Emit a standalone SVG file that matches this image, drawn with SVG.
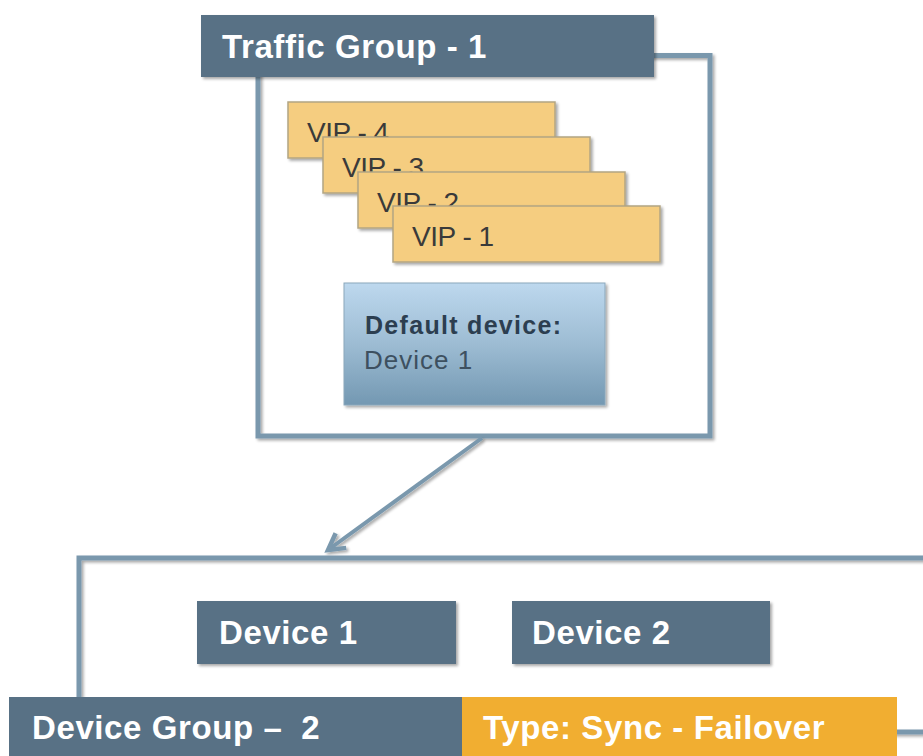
<svg xmlns="http://www.w3.org/2000/svg" width="923" height="756" viewBox="0 0 923 756">
  <defs>
    <filter id="sh" x="-10%" y="-10%" width="130%" height="130%">
      <feGaussianBlur in="SourceAlpha" stdDeviation="1.5"/>
      <feOffset dx="1.5" dy="2" result="b"/>
      <feComponentTransfer><feFuncA type="linear" slope="0.35"/></feComponentTransfer>
      <feMerge><feMergeNode/><feMergeNode in="SourceGraphic"/></feMerge>
    </filter>
    <linearGradient id="blueGrad" x1="0" y1="0" x2="0" y2="1">
      <stop offset="0" stop-color="#bdd8ee"/>
      <stop offset="0.5" stop-color="#9dbcd3"/>
      <stop offset="1" stop-color="#7398b2"/>
    </linearGradient>
    <marker id="arrow" viewBox="-4 -4 28 28" refX="18" refY="10" markerWidth="28" markerHeight="28" markerUnits="userSpaceOnUse" orient="auto" overflow="visible">
      <path d="M2,1 L18,10 L2,19" fill="none" stroke="#7a98ad" stroke-width="4.5" stroke-linejoin="miter"/>
    </marker>
    <style>
      .frame { fill: none; stroke: #7a98ad; stroke-width: 5; }
      .hdr { fill: #587185; }
      .vip { fill: #f5cd80; stroke: #b3a582; stroke-width: 1.5; }
      .vipt { font-family: "Liberation Sans", Arial, sans-serif; font-size: 28px; fill: #3a3a3a; letter-spacing: -0.5px; }
      .wt { font-family: "Liberation Sans", Arial, sans-serif; font-size: 33px; font-weight: bold; fill: #ffffff; letter-spacing: 0.6px; }
      .dev { fill: #587185; }
    </style>
  </defs>

  <rect x="0" y="0" width="923" height="756" fill="#ffffff"/>

  <g id="traffic-group-1">
    <rect class="frame" x="258" y="55.5" width="452" height="380.5" filter="url(#sh)"/>
    <rect class="hdr" x="201" y="15" width="453" height="62" filter="url(#sh)"/>
    <text class="wt" x="222" y="58">Traffic Group - 1</text>
  </g>

  <g id="vip-4">
    <rect class="vip" x="288" y="102" width="267" height="56" filter="url(#sh)"/>
    <text class="vipt" x="307" y="142">VIP - 4</text>
  </g>
  <g id="vip-3">
    <rect class="vip" x="323" y="137" width="267" height="56" filter="url(#sh)"/>
    <text class="vipt" x="342" y="177">VIP - 3</text>
  </g>
  <g id="vip-2">
    <rect class="vip" x="358" y="172" width="267" height="56" filter="url(#sh)"/>
    <text class="vipt" x="377" y="212">VIP - 2</text>
  </g>
  <g id="vip-1">
    <rect class="vip" x="393" y="206" width="267" height="56" filter="url(#sh)"/>
    <text class="vipt" x="412" y="246">VIP - 1</text>
  </g>

  <g id="default-device">
    <rect x="344" y="283" width="261" height="122" fill="url(#blueGrad)" stroke="#8ba7bb" stroke-width="1" filter="url(#sh)"/>
    <text x="365" y="334" font-family="Liberation Sans, Arial, sans-serif" font-size="25" font-weight="bold" letter-spacing="1.3" fill="#2c3e50">Default device:</text>
    <text x="364" y="369" font-family="Liberation Sans, Arial, sans-serif" font-size="26" letter-spacing="1" fill="#3d5060">Device 1</text>
  </g>

  <g id="connectors">
    <line x1="482" y1="438" x2="328" y2="550" stroke="#7a98ad" stroke-width="4" marker-end="url(#arrow)" filter="url(#sh)"/>
  </g>

  <g id="device-group-2">
    <rect class="frame" x="79" y="558" width="900" height="174" filter="url(#sh)"/>
    <rect class="hdr" x="9" y="697" width="453" height="70"/>
    <text class="wt" x="32" y="739">Device Group – <tspan dx="9">2</tspan></text>
    <rect x="462" y="697" width="435" height="70" fill="#f1ae31"/>
    <text class="wt" x="483" y="739">Type: Sync - Failover</text>
  </g>

  <g id="device-1">
    <rect class="dev" x="197" y="601" width="259" height="63" filter="url(#sh)"/>
    <text class="wt" x="219" y="644">Device 1</text>
  </g>
  <g id="device-2">
    <rect class="dev" x="512" y="601" width="258" height="63" filter="url(#sh)"/>
    <text class="wt" x="532" y="644">Device 2</text>
  </g>
</svg>
